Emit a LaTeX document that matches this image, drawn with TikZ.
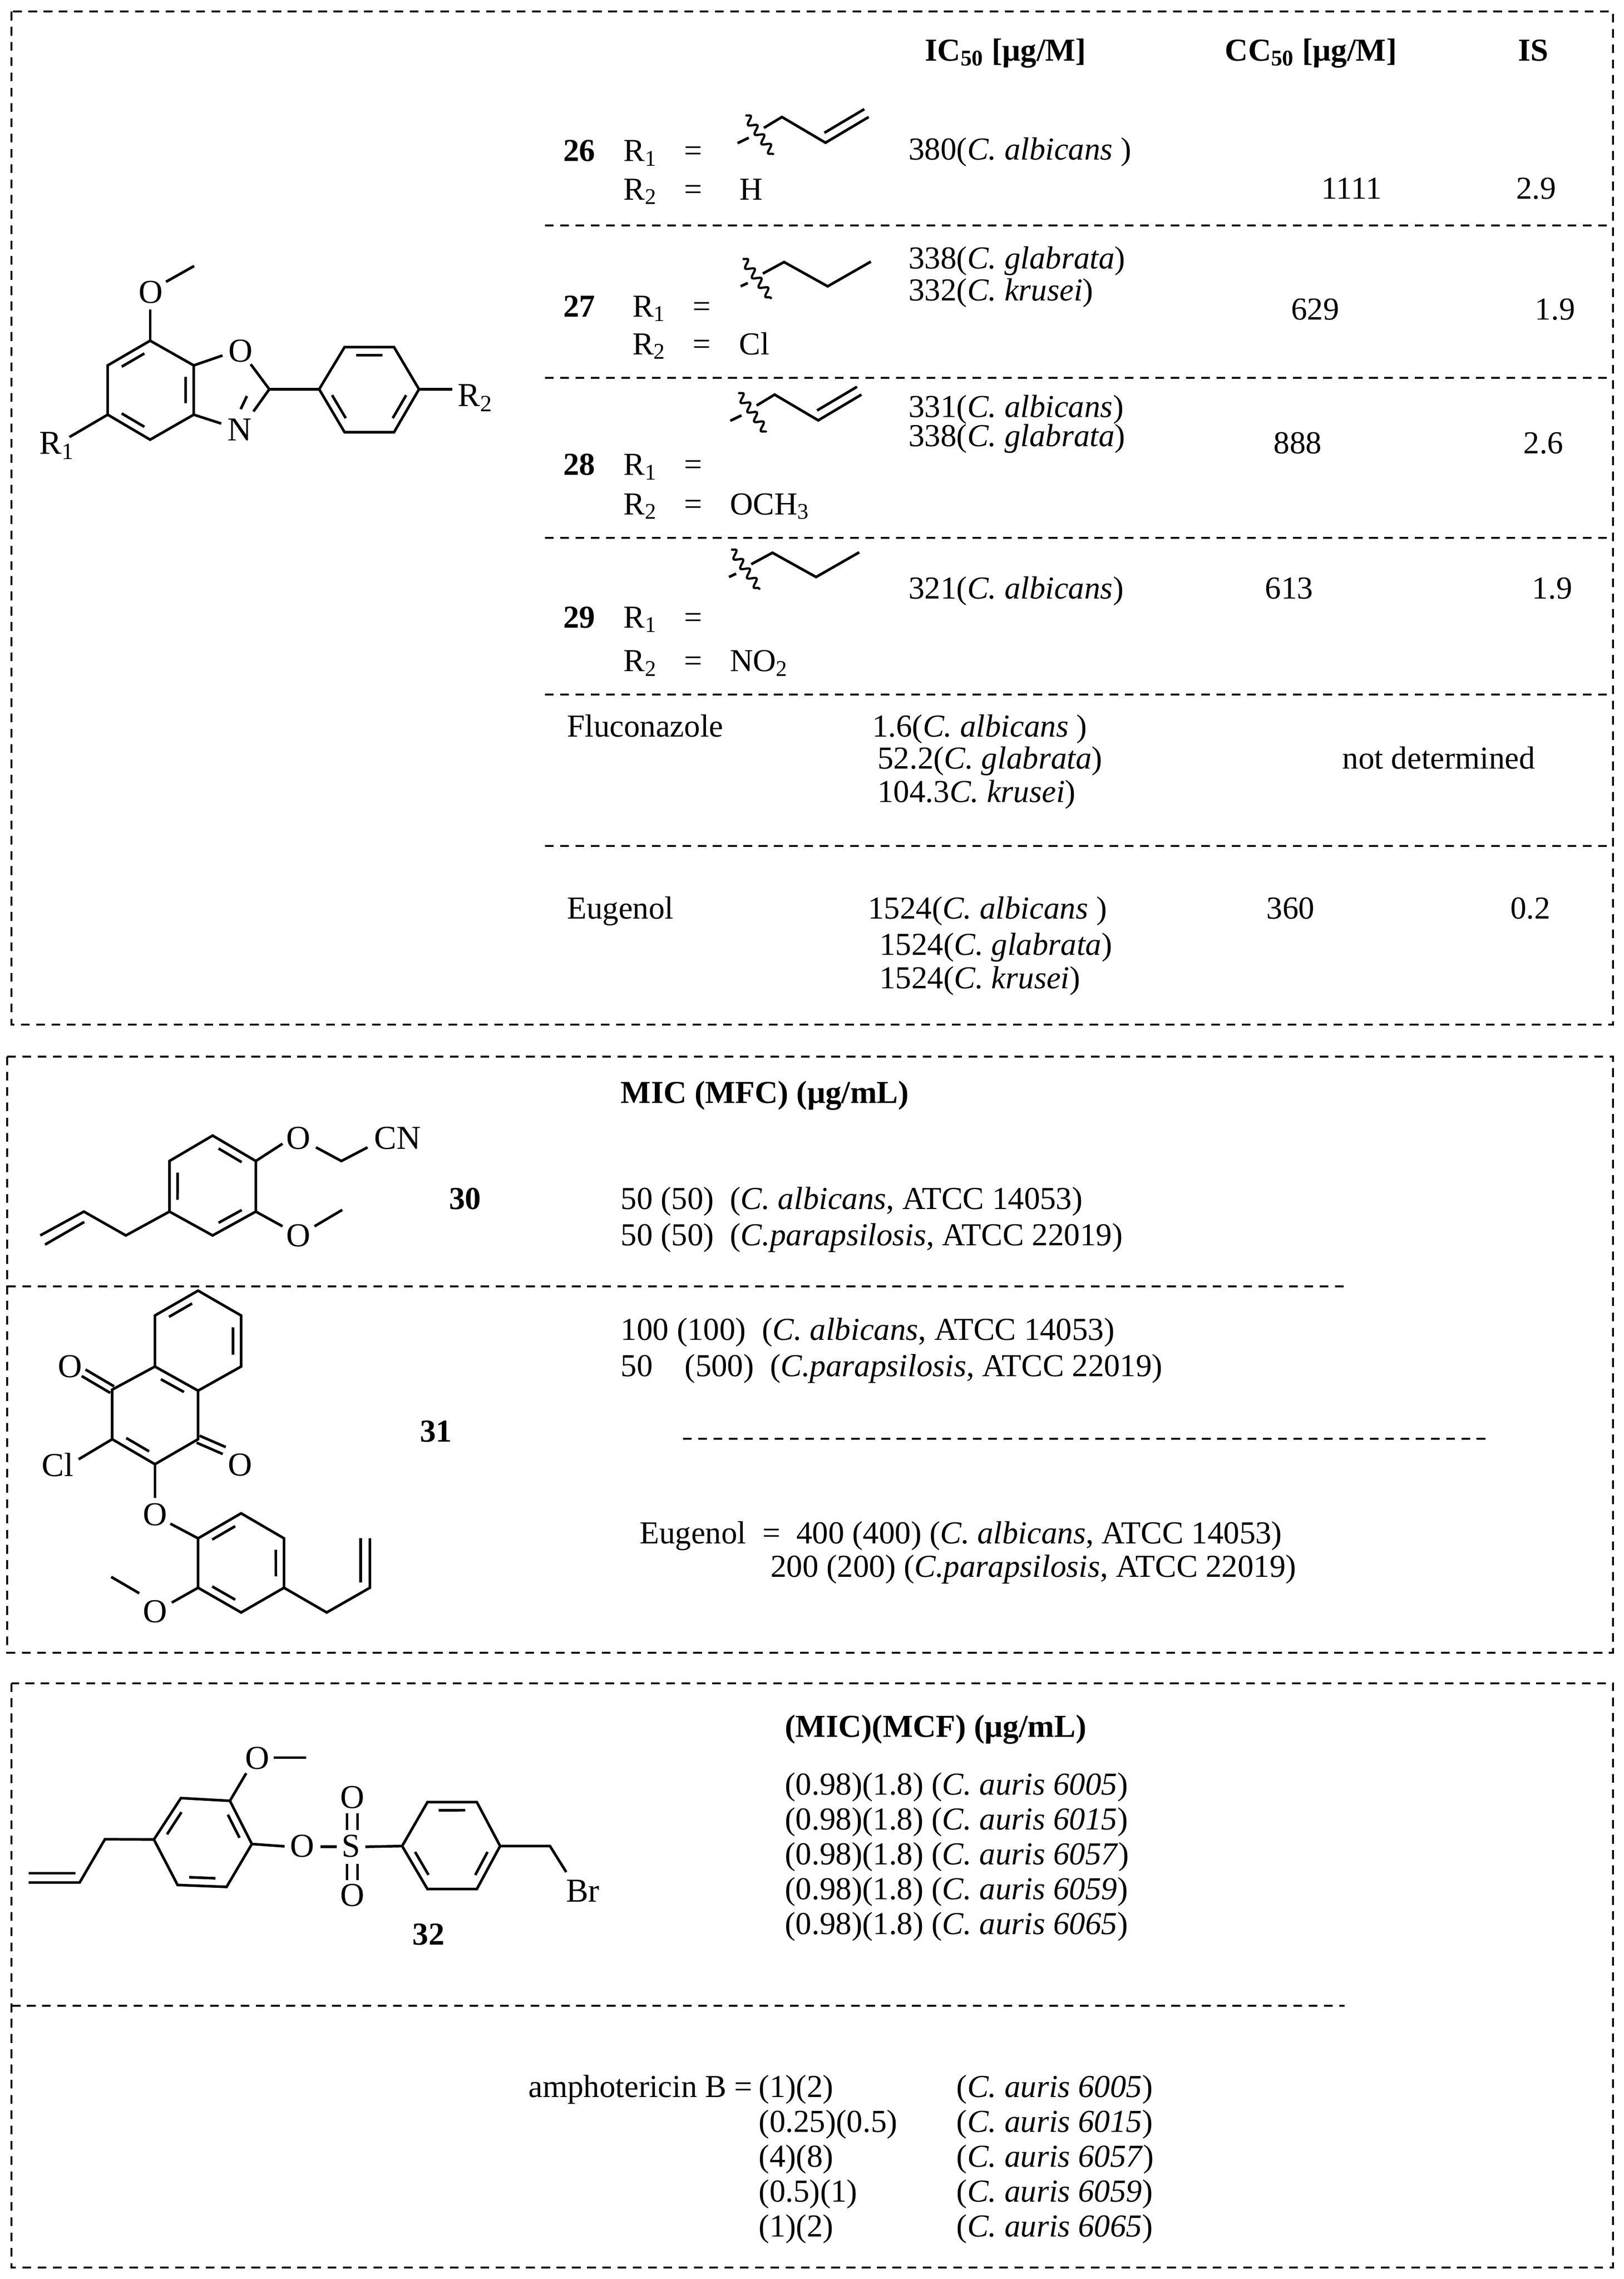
\documentclass[tikz,border=0pt]{standalone}
\usepackage{fontspec}
\setmainfont{Liberation Serif}
\usetikzlibrary{calc,decorations.pathmorphing}
\newcommand\inb[3]{\draw[bond] ($($(#1)!.17!(#2)$)!6pt!(#3)$) -- ($($(#1)!.83!(#2)$)!6pt!(#3)$);}
\newcommand\dbb[2]{\draw[bond] ($(#1)!2.6pt!90:(#2)$) -- ($(#2)!2.6pt!-90:(#1)$); \draw[bond] ($(#1)!2.6pt!-90:(#2)$) -- ($(#2)!2.6pt!90:(#1)$);}
\tikzset{
  bond/.style={line width=1.8pt},
  boxline/.style={line width=1.3pt, dash pattern=on 6pt off 4.5pt},
  txt/.style={anchor=base west, inner sep=0pt, font=\fontsize{22}{24}\selectfont},
  ctxt/.style={anchor=base, inner sep=0pt, font=\fontsize{22}{24}\selectfont},
  btxt/.style={anchor=base, inner sep=0pt, font=\fontsize{22}{24}\selectfont\bfseries},
  atom/.style={inner sep=0pt, font=\fontsize{23}{24}\selectfont},
  wavy/.style={line width=1.5pt, decorate, decoration={snake, amplitude=2.6pt, segment length=8pt}}
}
\begin{document}
\begin{tikzpicture}[x=1pt,y=-1pt]
\useasboundingbox (0,0) rectangle (1117.4,1568);
% boxes
\draw[boxline] (8,8) rectangle (1110,705);
\draw[boxline] (5,727) rectangle (1110,1137);
\draw[boxline] (8,1158) rectangle (1110,1560);
\foreach \yy in {155,260,370,478,582} \draw[boxline] (375,\yy) -- (1110,\yy);
\draw[boxline] (5,885) -- (925,885);
\draw[boxline] (470,990) -- (1025,990);
\draw[boxline] (8,1380) -- (925,1380);

% ---------- benzoxazole
\coordinate (c7) at (103.3,234.4); \coordinate (c6) at (74.1,251.4);
\coordinate (c5) at (74.1,285.3); \coordinate (c4) at (103.3,302.5);
\coordinate (c3a) at (133.3,285.3); \coordinate (c7a) at (133.3,251.4);
\coordinate (bc) at (103.7,268.4);
\draw[bond] (c7)--(c6)--(c5)--(c4)--(c3a)--(c7a)--cycle;
\inb{c7}{c6}{bc} \inb{c5}{c4}{bc} \inb{c7a}{c3a}{bc}
\node[atom] (om) at (103.7,201) {O};
\draw[bond] (c7) -- (103.3,213);
\coordinate (me1) at (133.6,183);
\draw[bond] (114.2,193.9) -- (me1);
\node[atom] (o1) at (165.5,241.5) {O};
\node[atom] (n1) at (165,295.7) {N};
\coordinate (c2) at (185.3,267.8);
\draw[bond] (c7a) -- (153.1,244.6);
\draw[bond] (172.5,250.6) -- (c2) -- (174.4,283.1);
\draw[bond] (169.9,272.5) -- (165.6,281.5);
\draw[bond] (c3a) -- (152.2,291.4);
\coordinate (p1) at (219.6,267.8); \coordinate (p2) at (237.1,238.8);
\coordinate (p3) at (271.1,238.8); \coordinate (p4) at (288.3,267.8);
\coordinate (p5) at (271.1,297.4); \coordinate (p6) at (237.1,297.4);
\coordinate (pc) at (253.9,267.8);
\draw[bond] (c2) -- (p1);
\draw[bond] (p1)--(p2)--(p3)--(p4)--(p5)--(p6)--cycle;
\inb{p2}{p3}{pc} \inb{p1}{p6}{pc} \inb{p4}{p5}{pc}
\draw[bond] (p4) -- (311.2,267.8);
\node[atom] (r2) at (327,273.8) {R\textsubscript{2}};
\draw[bond] (c5) -- (47.8,300.7);
\node[atom] (r1) at (39,306.7) {R\textsubscript{1}};

% ---------- substituents (allyl / propyl)
\foreach \dx/\dy in {0/0,-5/191}{
\begin{scope}[shift={(\dx,\dy)}]
\draw[bond] (507.5,98.5) -- (515.2,94.8);
\draw[wavy] (513,79.2) -- (532.3,106.4);
\draw[bond] (525.6,88) -- (538,80.5) -- (568,98.2) -- (597.7,80.5);
\draw[bond] (567.2,91.4) -- (594.7,75.1);
\end{scope}}
\foreach \dx/\dy in {0/0,-8/200}{
\begin{scope}[shift={(\dx,\dy)}]
\draw[bond] (509.6,197) -- (514.5,194.7);
\draw[wavy] (511.1,177.9) -- (530.8,205.6);
\draw[bond] (524.9,188.2) -- (539.5,180.3) -- (569.5,197) -- (599.2,180);
\end{scope}}

% ---------- table 1 text
\node[btxt] (h1) at (692,42) {IC\textsubscript{50} [μg/M]};
\node[btxt] (h2) at (902,42) {CC\textsubscript{50} [μg/M]};
\node[btxt] (h3) at (1055,42) {IS};

\node[btxt] (n26) at (398.6,111) {26};
\node[txt] (a26) at (429,111) {R\textsubscript{1}}; \node[ctxt] (e26) at (477,111) {=};
\node[txt] (b26) at (429,137.5) {R\textsubscript{2}}; \node[ctxt] (f26) at (477,137.5) {=};
\node[ctxt] (g26) at (517,137.5) {H};
\node[txt] (i26) at (625,110) {380(\textit{C. albicans} )};
\node[ctxt] (j26) at (930,137) {1111}; \node[ctxt] (k26) at (1057,137) {2.9};

\node[btxt] (n27) at (398.6,218) {27};
\node[txt] (a27) at (435,218) {R\textsubscript{1}}; \node[ctxt] (e27) at (483,218) {=};
\node[txt] (b27) at (435,244) {R\textsubscript{2}}; \node[ctxt] (f27) at (483,244) {=};
\node[ctxt] (g27) at (519,244) {Cl};
\node[txt] (i27) at (625,185) {338(\textit{C. glabrata})};
\node[txt] (l27) at (625,207) {332(\textit{C. krusei})};
\node[ctxt] (j27) at (905,220) {629}; \node[ctxt] (k27) at (1070,220) {1.9};

\node[btxt] (n28) at (398.6,327) {28};
\node[txt] (a28) at (429,327) {R\textsubscript{1}}; \node[ctxt] (e28) at (477,327) {=};
\node[txt] (b28) at (429,354) {R\textsubscript{2}}; \node[ctxt] (f28) at (477,354) {=};
\node[txt] (g28) at (502,354) {OCH\textsubscript{3}};
\node[txt] (i28) at (625,287) {331(\textit{C. albicans})};
\node[txt] (l28) at (625,307) {338(\textit{C. glabrata})};
\node[ctxt] (j28) at (893,312) {888}; \node[ctxt] (k28) at (1062,312) {2.6};

\node[btxt] (n29) at (398.6,432) {29};
\node[txt] (a29) at (429,432) {R\textsubscript{1}}; \node[ctxt] (e29) at (477,432) {=};
\node[txt] (b29) at (429,462) {R\textsubscript{2}}; \node[ctxt] (f29) at (477,462) {=};
\node[txt] (g29) at (502,462) {NO\textsubscript{2}};
\node[txt] (i29) at (625,412) {321(\textit{C. albicans})};
\node[ctxt] (j29) at (887,412) {613}; \node[ctxt] (k29) at (1068,412) {1.9};

\node[txt] (flu) at (390,507) {Fluconazole};
\node[txt] (fl1) at (600,507) {1.6(\textit{C. albicans} )};
\node[txt] (fl2) at (600,529) {\,52.2(\textit{C. glabrata})};
\node[txt] (fl3) at (600,552) {\,104.3\textit{C. krusei})};
\node[ctxt] (nd) at (990,529) {not determined};

\node[txt] (eug) at (390,632) {Eugenol};
\node[txt] (eu1) at (597,632) {1524(\textit{C. albicans} )};
\node[txt] (eu2) at (605,657) {1524(\textit{C. glabrata})};
\node[txt] (eu3) at (605,680) {1524(\textit{C. krusei})};
\node[ctxt] (eu4) at (888,632) {360}; \node[ctxt] (eu5) at (1053,632) {0.2};

% ---------- compound 30
\coordinate (a1) at (146.3,781.3); \coordinate (a2) at (176,798.8);
\coordinate (a3) at (176,833.6); \coordinate (a4) at (146.3,850);
\coordinate (a5) at (116.6,833.6); \coordinate (a6) at (116.6,798.8);
\coordinate (ac) at (146.3,815.7);
\draw[bond] (a1)--(a2)--(a3)--(a4)--(a5)--(a6)--cycle;
\inb{a1}{a2}{ac} \inb{a3}{a4}{ac} \inb{a5}{a6}{ac}
\node[atom] (o30a) at (205.4,783.1) {O};
\draw[bond] (a2) -- (194.4,786.9);
\draw[bond] (217.4,789.4) -- (234.9,798.8) -- (252.9,789.4);
\node[atom] (cn) at (273.5,783.1) {CN};
\node[atom] (o30b) at (205.4,850) {O};
\draw[bond] (a3) -- (194.4,843.7);
\draw[bond] (216.4,843.7) -- (235.5,832.4);
\draw[bond] (a5) -- (86.6,850) -- (57.7,833.6) -- (27.7,850);
\draw[bond] (31,856.3) -- (58,840.7);
\node[btxt] (n30) at (320,832) {30};

% ---------- compound 31
\coordinate (u1) at (106.6,940.2); \coordinate (u2) at (106.6,905.1);
\coordinate (u3) at (136.3,888); \coordinate (u4) at (165.9,905.1);
\coordinate (u5) at (165.9,940.2); \coordinate (u6) at (136.3,956.8);
\coordinate (uc) at (136.2,922.5);
\coordinate (q1) at (77.2,956.1); \coordinate (q3) at (136.3,990.2);
\coordinate (q4) at (106.6,1007.4); \coordinate (q5) at (77.2,990.2);
\coordinate (qc) at (106.7,973.5);
\draw[bond] (u1)--(u2)--(u3)--(u4)--(u5)--(u6)--cycle;
\draw[bond] (u1)--(q1)--(q5)--(q4)--(q3)--(u6);
\inb{u2}{u3}{uc} \inb{u4}{u5}{uc} \inb{u1}{u6}{qc} \inb{q5}{q4}{qc}
\node[atom] (o31a) at (48.1,940.2) {O};
\coordinate (o31ae) at (57.5,944.5);
\dbb{q1}{o31ae}
\node[atom] (o31b) at (165.3,1007.9) {O};
\coordinate (o31be) at (154.3,998);
\dbb{q3}{o31be}
\draw[bond] (q5) -- (54.1,1004);
\node[atom] (cl) at (39.7,1007.9) {Cl};
\draw[bond] (q4) -- (106.6,1030.6);
\node[atom] (o31c) at (106.6,1042) {O};
\coordinate (l1) at (136.3,1058.4); \coordinate (l2) at (165.9,1041.2);
\coordinate (l3) at (195.4,1058.4); \coordinate (l4) at (195.4,1092.4);
\coordinate (l5) at (165.9,1109.4); \coordinate (l6) at (136.3,1092.4);
\coordinate (lc) at (165.9,1075.3);
\draw[bond] (117.2,1048.3) -- (l1);
\draw[bond] (l1)--(l2)--(l3)--(l4)--(l5)--(l6)--cycle;
\inb{l1}{l2}{lc} \inb{l3}{l4}{lc} \inb{l5}{l6}{lc}
\draw[bond] (l6) -- (118.2,1102.6);
\node[atom] (o31d) at (106.6,1108.9) {O};
\draw[bond] (95.8,1096.2) -- (76.5,1084.9);
\draw[bond] (l4) -- (224.8,1109.4) -- (254.5,1092.4) -- (254.5,1058.4);
\draw[bond] (248.1,1058.4) -- (248.1,1088.7);
\node[btxt] (n31) at (300,992) {31};

% ---------- table 2 text
\node[txt,font=\fontsize{22}{24}\selectfont\bfseries] (h4) at (427,759) {MIC (MFC) (μg/mL)};
\node[txt] (t1) at (427,832) {50 (50)\ \ (\textit{C. albicans}, ATCC 14053)};
\node[txt] (t2) at (427,857) {50 (50)\ \ (\textit{C.parapsilosis}, ATCC 22019)};
\node[txt] (t3) at (427,922) {100 (100)\ \ (\textit{C. albicans}, ATCC 14053)};
\node[txt] (t4) at (427,947) {50\hphantom{0}\ \ (500)\ \ (\textit{C.parapsilosis}, ATCC 22019)};
\node[txt] (t5) at (440,1062) {Eugenol\ \ =\ \ 400 (400) (\textit{C. albicans}, ATCC 14053)};
\node[txt] (t6) at (530,1085) {200 (200) (\textit{C.parapsilosis}, ATCC 22019)};

% ---------- compound 32
\coordinate (b1) at (124.5,1237.1); \coordinate (b2) at (158.2,1239);
\coordinate (b3) at (173.3,1268.7); \coordinate (b4) at (155.9,1298.2);
\coordinate (b5) at (122.2,1296.9); \coordinate (b6) at (105.9,1265.6);
\coordinate (bcc) at (140,1267.6);
\draw[bond] (b1)--(b2)--(b3)--(b4)--(b5)--(b6)--cycle;
\inb{b1}{b6}{bcc} \inb{b2}{b3}{bcc} \inb{b4}{b5}{bcc}
\draw[bond] (b2) -- (169.4,1220);
\node[atom] (o32a) at (177,1209.7) {O};
\draw[bond] (188.2,1209.2) -- (210.7,1209.2);
\draw[bond] (b6) -- (72.2,1265.4) -- (54.8,1295.2) -- (19.7,1295.2);
\draw[bond] (19.7,1288.8) -- (52,1288.8);
\draw[bond] (b3) -- (195.8,1270.3);
\node[atom] (o32b) at (207.9,1270) {O};
\draw[bond] (220.5,1270.6) -- (231.8,1270.6);
\node[atom] (s32) at (241.6,1270.1) {S};
\draw[bond] (238.8,1247.7) -- (238.8,1258.9); \draw[bond] (246,1247.7) -- (246,1258.9);
\draw[bond] (238.8,1282.4) -- (238.8,1293.4); \draw[bond] (246,1282.4) -- (246,1293.4);
\node[atom] (o32c) at (242.4,1236.5) {O};
\node[atom] (o32d) at (242.4,1304.1) {O};
\coordinate (r1c) at (276.7,1270.1); \coordinate (r2c) at (294.1,1239.9);
\coordinate (r3c) at (328.1,1239.9); \coordinate (r4c) at (344.1,1270.1);
\coordinate (r5c) at (328.1,1299.7); \coordinate (r6c) at (294.1,1299.7);
\coordinate (rcc) at (310.4,1270);
\draw[bond] (251.4,1270.6) -- (r1c);
\draw[bond] (r1c)--(r2c)--(r3c)--(r4c)--(r5c)--(r6c)--cycle;
\inb{r2c}{r3c}{rcc} \inb{r1c}{r6c}{rcc} \inb{r4c}{r5c}{rcc}
\draw[bond] (r4c) -- (378.4,1270.1) -- (389.6,1288);
\node[atom] (br) at (401,1301) {Br};
\node[btxt] (n32) at (294.9,1338) {32};

% ---------- table 3 text
\node[txt,font=\fontsize{22}{24}\selectfont\bfseries] (h5) at (540,1195) {(MIC)(MCF) (μg/mL)};
\foreach \yy/\nn in {1235/6005,1259/6015,1283/6057,1307/6059,1331/6065}
  \node[txt] (m\nn) at (540,\yy) {(0.98)(1.8) (\textit{C. auris \nn})};
\node[anchor=base east, inner sep=0pt, font=\fontsize{22}{24}\selectfont] (amph) at (518,1443) {amphotericin B =};
\foreach \yy/\vv/\nn in {1443/(1)(2)/6005,1467/(0.25)(0.5)/6015,1491/(4)(8)/6057,1515/(0.5)(1)/6059,1539/(1)(2)/6065}{
  \node[txt] (v\nn) at (522,\yy) {\vv};
  \node[txt] (s\nn) at (658,\yy) {(\textit{C. auris \nn})};
}
\end{tikzpicture}
\end{document}
